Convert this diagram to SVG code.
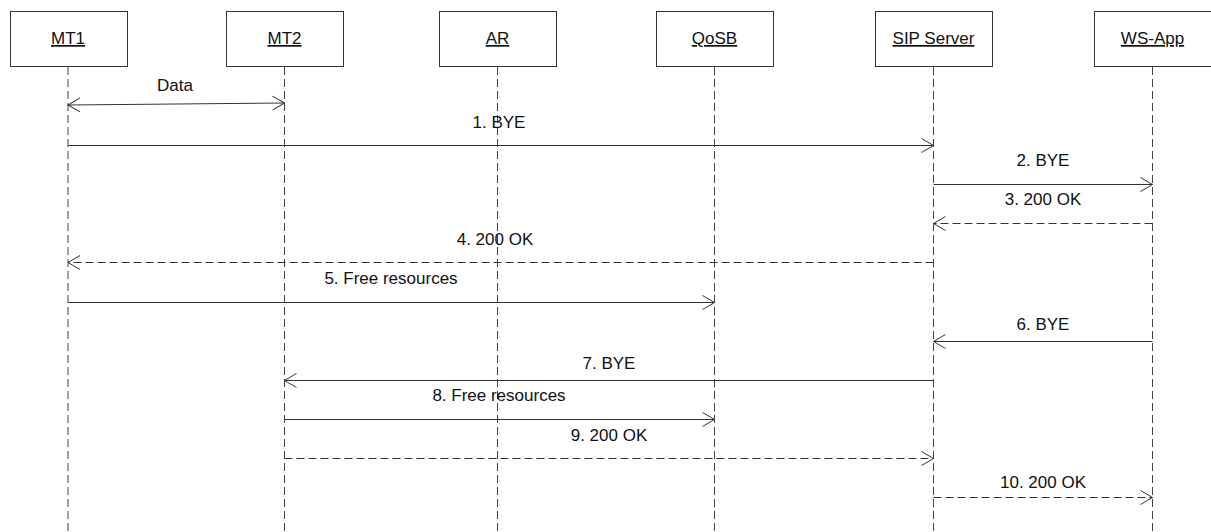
<svg xmlns="http://www.w3.org/2000/svg" width="1211" height="532" viewBox="0 0 1211 532">
<style>
.box{fill:#fff;stroke:#333;stroke-width:1}
.name{font-family:"Liberation Sans",Arial,sans-serif;font-size:17px;fill:#111;text-anchor:middle;text-decoration:underline}
.life{stroke:#444;stroke-width:1;stroke-dasharray:8,4;fill:none}
.msg{stroke:#333;stroke-width:1;fill:none;marker-end:url(#arr)}
.dash{stroke-dasharray:8,4}
.lbl{font-family:"Liberation Sans",Arial,sans-serif;font-size:17px;fill:#111;text-anchor:middle}
</style>
<defs>
<marker id="arr" markerUnits="userSpaceOnUse" markerWidth="16" markerHeight="18" viewBox="-14 -9 16 18" refX="0" refY="0" orient="auto-start-reverse">
<path d="M-12,-7 L0,0 L-12,7" fill="none" stroke="#333" stroke-width="1"/>
</marker>
</defs>
<rect width="1211" height="532" fill="#fff"/>
<g id="MT1"><rect class="box" x="10.5" y="11.5" width="117" height="55"/><text class="name" x="68" y="44">MT1</text><line class="life" x1="68" y1="67" x2="68" y2="532"/></g>
<g id="MT2"><rect class="box" x="226.5" y="11.5" width="117" height="55"/><text class="name" x="284.5" y="44">MT2</text><line class="life" x1="284.5" y1="67" x2="284.5" y2="532"/></g>
<g id="AR"><rect class="box" x="439.5" y="11.5" width="117" height="55"/><text class="name" x="497.5" y="44">AR</text><line class="life" x1="497.5" y1="67" x2="497.5" y2="532"/></g>
<g id="QoSB"><rect class="box" x="656.5" y="11.5" width="117" height="55"/><text class="name" x="714.5" y="44">QoSB</text><line class="life" x1="714.5" y1="67" x2="714.5" y2="532"/></g>
<g id="SIPServer"><rect class="box" x="875.5" y="11.5" width="117" height="55"/><text class="name" x="933.5" y="44">SIP Server</text><line class="life" x1="933.5" y1="67" x2="933.5" y2="532"/></g>
<g id="WSApp"><rect class="box" x="1094.5" y="11.5" width="117" height="55"/><text class="name" x="1152.5" y="44">WS-App</text><line class="life" x1="1152.5" y1="67" x2="1152.5" y2="532"/></g>
<g id="connectors">
<path class="msg" d="M68,105 L284.5,103" marker-start="url(#arr)"/>
<text class="lbl" x="175" y="91">Data</text>
<path class="msg" d="M68,145.5 L933.5,145.5"/>
<text class="lbl" x="499" y="128">1. BYE</text>
<path class="msg" d="M933.5,184.5 L1152.5,184.5"/>
<text class="lbl" x="1043" y="166">2. BYE</text>
<path class="msg dash" d="M1152.5,223.5 L933.5,223.5"/>
<text class="lbl" x="1043" y="205">3. 200 OK</text>
<path class="msg dash" d="M933.5,262.5 L68,262.5"/>
<text class="lbl" x="495" y="245">4. 200 OK</text>
<path class="msg" d="M68,302.5 L714.5,302.5"/>
<text class="lbl" x="391" y="284">5. Free resources</text>
<path class="msg" d="M1152.5,341.5 L933.5,341.5"/>
<text class="lbl" x="1043" y="330">6. BYE</text>
<path class="msg" d="M933.5,380.5 L284.5,380.5"/>
<text class="lbl" x="609" y="369">7. BYE</text>
<path class="msg" d="M284.5,419.5 L714.5,419.5"/>
<text class="lbl" x="499" y="401">8. Free resources</text>
<path class="msg dash" d="M284.5,458.5 L933.5,458.5"/>
<text class="lbl" x="609" y="441">9. 200 OK</text>
<path class="msg dash" d="M933.5,497.5 L1152.5,497.5"/>
<text class="lbl" x="1043" y="488">10. 200 OK</text>
</g>
</svg>
